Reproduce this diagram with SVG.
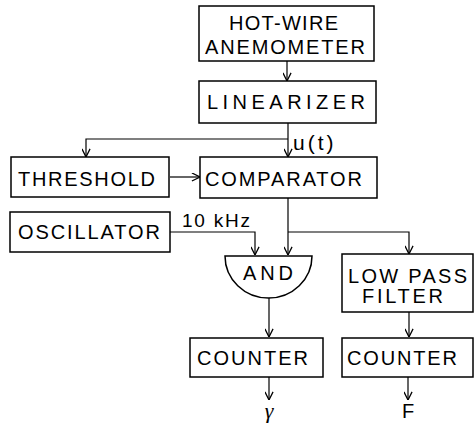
<svg xmlns="http://www.w3.org/2000/svg" width="475" height="426" viewBox="0 0 475 426">
<style>
.box{fill:#fff;stroke:#000;stroke-width:1.5}
.ln{fill:none;stroke:#000;stroke-width:1.2}
.t{font-family:"Liberation Sans",Arial,sans-serif;font-size:20px;fill:#000}
.s{font-family:"Liberation Sans",Arial,sans-serif;font-size:19px;fill:#000}
</style>
<defs>
<marker id="ah" viewBox="0 0 10 10" refX="10" refY="5" markerWidth="9" markerHeight="9" orient="auto" markerUnits="userSpaceOnUse">
<path d="M1,0.5 L10,5 L1,9.5" fill="none" stroke="#000" stroke-width="1.4"/>
</marker>
</defs>
<rect width="475" height="426" fill="#fff"/>
<g id="connectors">
<path class="ln" d="M287,61 V81" marker-end="url(#ah)"/>
<path class="ln" d="M288,123 V157" marker-end="url(#ah)"/>
<path class="ln" d="M288,139 H86 V157" marker-end="url(#ah)"/>
<path class="ln" d="M170,177 H200" marker-end="url(#ah)"/>
<path class="ln" d="M170,232 H255 V255" marker-end="url(#ah)"/>
<path class="ln" d="M288,198 V255" marker-end="url(#ah)"/>
<path class="ln" d="M288,232 H409 V254" marker-end="url(#ah)"/>
<path class="ln" d="M269,298 V337" marker-end="url(#ah)"/>
<path class="ln" d="M409,312 V337" marker-end="url(#ah)"/>
<path class="ln" d="M269,377 V400" marker-end="url(#ah)"/>
<path class="ln" d="M408,377 V400" marker-end="url(#ah)"/>
<text x="293" y="150" font-family="'Liberation Sans',Arial,sans-serif" font-size="21" letter-spacing="3">u(t)</text>
<text class="s" x="182" y="227" textLength="68" lengthAdjust="spacing">10 kHz</text>
</g>
<g id="hotwire">
<rect class="box" x="199" y="6" width="175" height="55"/>
<text class="t" x="229" y="30" textLength="109" lengthAdjust="spacing">HOT-WIRE</text>
<text class="t" x="205" y="54" textLength="160" lengthAdjust="spacing">ANEMOMETER</text>
</g>
<g id="linearizer">
<rect class="box" x="199" y="81" width="177" height="42"/>
<text class="t" x="207" y="109" textLength="158" lengthAdjust="spacing">LINEARIZER</text>
</g>
<g id="threshold">
<rect class="box" x="11" y="157" width="158" height="40"/>
<text class="t" x="18" y="186" textLength="137" lengthAdjust="spacing">THRESHOLD</text>
</g>
<g id="comparator">
<rect class="box" x="200" y="157" width="177" height="41"/>
<text class="t" x="205" y="186" textLength="157" lengthAdjust="spacing">COMPARATOR</text>
</g>
<g id="oscillator">
<rect class="box" x="10" y="212" width="160" height="40"/>
<text class="t" x="18" y="239" textLength="142" lengthAdjust="spacing">OSCILLATOR</text>
</g>
<g id="and">
<path class="box" d="M225,256 H312 A43.5,42 0 0 1 225,256 Z"/>
<text class="t" x="243" y="280" textLength="50" lengthAdjust="spacing">AND</text>
</g>
<g id="lowpass">
<rect class="box" x="342" y="254" width="131" height="58"/>
<text class="t" x="348" y="283" textLength="119" lengthAdjust="spacing">LOW PASS</text>
<text class="t" x="362" y="303" textLength="81" lengthAdjust="spacing">FILTER</text>
</g>
<g id="counter1">
<rect class="box" x="190" y="338" width="133" height="39"/>
<text class="t" x="197" y="365" textLength="111" lengthAdjust="spacing">COUNTER</text>
</g>
<g id="counter2">
<rect class="box" x="342" y="338" width="131" height="39"/>
<text class="t" x="347" y="365" textLength="110" lengthAdjust="spacing">COUNTER</text>
</g>
<g id="outputs">
<text x="269" y="418" text-anchor="middle" font-family="'Liberation Serif',serif" font-style="italic" font-size="22">γ</text>
<text class="t" x="408" y="418" text-anchor="middle">F</text>
</g>
</svg>
